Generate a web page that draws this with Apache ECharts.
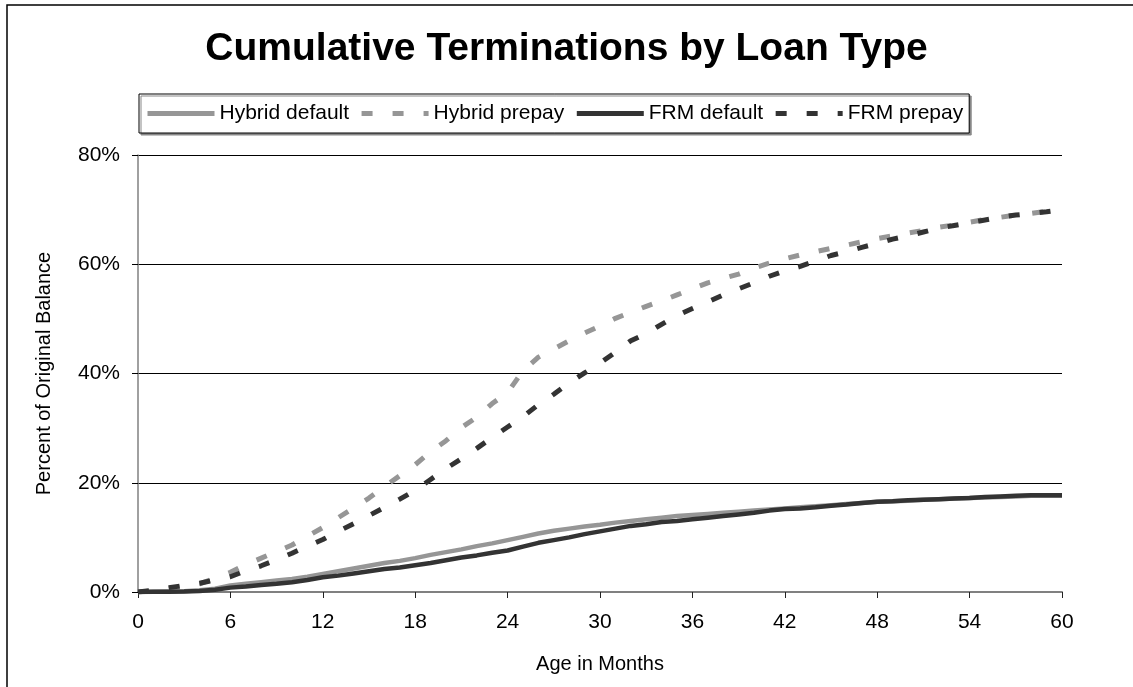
<!DOCTYPE html>
<html>
<head>
<meta charset="utf-8">
<title>Cumulative Terminations by Loan Type</title>
<script src="https://cdn.jsdelivr.net/npm/echarts@6/dist/echarts.min.js"></script>
<style>
  html, body { margin: 0; padding: 0; background: #fff; }
  #main { width: 1133px; height: 687px; }
</style>
</head>
<body>
<div id="main"></div>
<script>
// months 0..60
var months = [];
for (var m = 0; m <= 60; m++) months.push(m);

var xTicks = [0, 6, 12, 18, 24, 30, 36, 42, 48, 54, 60];
var yTicks = [0, 20, 40, 60, 80];

// cumulative % of original balance, one value per month
var hybridDefault = [0, 0.05, 0.1, 0.15, 0.3, 0.6, 1.2, 1.5, 1.8, 2.1, 2.4, 2.8, 3.3, 3.8, 4.3, 4.8, 5.3, 5.7, 6.2, 6.8, 7.3,
  7.8, 8.4, 8.9, 9.5, 10.1, 10.7, 11.2, 11.6, 12.0, 12.3, 12.7, 13.0, 13.3, 13.6, 13.9, 14.1, 14.3, 14.5, 14.7, 14.9,
  15.1, 15.3, 15.5, 15.7, 15.9, 16.1, 16.3, 16.5, 16.6, 16.7, 16.9, 17.0, 17.1, 17.2, 17.3, 17.4, 17.5, 17.6, 17.6, 17.6];
var hybridPrepay = [0, 0.2, 0.6, 1.0, 1.5, 2.5, 3.6, 5.0, 6.2, 7.4, 8.6, 10.2, 11.8, 13.6, 15.4, 17.2, 19.3, 21.3, 23.3, 25.7, 27.7,
  30.1, 32.0, 34.5, 36.5, 40.5, 43.0, 44.5, 46.0, 47.4, 48.7, 50.1, 51.2, 52.3, 53.3, 54.4, 55.5, 56.6, 57.4, 58.2, 59.3,
  60.2, 61.0, 61.7, 62.3, 62.9, 63.5, 64.1, 64.7, 65.2, 65.7, 66.2, 66.8, 67.2, 67.7, 68.2, 68.6, 69.0, 69.3, 69.7, 70.0];
var frmDefault = [0, 0.05, 0.05, 0.1, 0.2, 0.4, 0.8, 1.0, 1.3, 1.5, 1.8, 2.2, 2.7, 3.0, 3.4, 3.8, 4.2, 4.5, 4.9, 5.3, 5.8,
  6.3, 6.7, 7.2, 7.6, 8.3, 9.0, 9.5, 10.0, 10.6, 11.1, 11.6, 12.1, 12.4, 12.8, 13.0, 13.3, 13.6, 13.9, 14.2, 14.5,
  14.9, 15.2, 15.3, 15.5, 15.8, 16.0, 16.3, 16.5, 16.6, 16.8, 16.9, 17.0, 17.1, 17.2, 17.4, 17.5, 17.6, 17.7, 17.7, 17.7];
var frmPrepay = [0, 0.3, 0.8, 1.2, 1.6, 2.2, 2.8, 3.9, 4.8, 5.9, 7.1, 8.4, 9.6, 11.1, 12.5, 14.0, 15.5, 17.0, 18.6, 20.6, 22.6,
  24.4, 26.3, 28.3, 30.2, 32.1, 34.3, 36.2, 38.3, 40.1, 41.9, 43.9, 46.0, 47.3, 49.0, 50.6, 51.9, 53.1, 54.4, 55.5, 56.6,
  57.8, 58.8, 59.6, 60.6, 61.6, 62.3, 63.1, 63.8, 64.6, 65.2, 65.9, 66.6, 67.1, 67.6, 68.1, 68.6, 69.0, 69.3, 69.6, 70.0];

function pairs(arr) {
  return months.map(function (mm, i) { return [mm, arr[i]]; });
}

var font = "'Liberation Sans', Arial, sans-serif";
var chart = echarts.init(document.getElementById("main"));

var option = {
  animation: false,
  backgroundColor: "#fff",
  textStyle: { fontFamily: font, color: "#000" },
  title: {
    text: "Cumulative Terminations by Loan Type",
    left: "center",
    top: 25,
    textStyle: { fontFamily: font, fontSize: 39, fontWeight: "bold", color: "#000" }
  },
  legend: {
    left: 139,
    top: 94,
    padding: [9, 6, 9, 6],
    itemWidth: 67,
    itemHeight: 14,
    itemGap: 10,
    borderColor: "#000",
    borderWidth: 1,
    shadowColor: "#888",
    shadowOffsetX: 2,
    shadowOffsetY: 2,
    backgroundColor: "#fff",
    itemStyle: { opacity: 0 },
    lineStyle: { width: 5 },
    textStyle: { fontFamily: font, fontSize: 21, color: "#000" },
    data: ["Hybrid default", "Hybrid prepay", "FRM default", "FRM prepay"]
  },
  graphic: [
    {
      type: "rect",
      shape: { x: 7, y: 5, width: 1200, height: 800 },
      style: { fill: null, stroke: "#000", lineWidth: 1.5 },
      silent: true
    }
  ],
  grid: { left: 138, right: 71, top: 155, bottom: 95 },
  xAxis: {
    type: "value",
    min: 0,
    max: 60,
    interval: 6,
    name: "Age in Months",
    nameLocation: "middle",
    nameGap: 62,
    nameTextStyle: { fontFamily: font, fontSize: 20, color: "#000" },
    axisLine: { lineStyle: { color: "#808080", width: 2 } },
    axisTick: { show: true, length: 6, lineStyle: { color: "#222", width: 1 } },
    axisLabel: { fontFamily: font, fontSize: 21, color: "#000", margin: 20 },
    splitLine: { show: false }
  },
  yAxis: {
    type: "value",
    min: 0,
    max: 80,
    interval: 20,
    name: "Percent of Original Balance",
    nameLocation: "middle",
    nameGap: 84,
    nameTextStyle: { fontFamily: font, fontSize: 20, color: "#000" },
    axisLine: { show: true, lineStyle: { color: "#808080", width: 1.5 } },
    axisTick: { show: true, length: 6, lineStyle: { color: "#000", width: 1 } },
    axisLabel: { fontFamily: font, fontSize: 21, color: "#000", margin: 18, formatter: "{value}%" },
    splitLine: { show: true, lineStyle: { color: "#000", width: 1 } }
  },
  series: [
    {
      name: "Hybrid default",
      type: "line",
      symbol: "none",
      data: pairs(hybridDefault),
      lineStyle: { color: "#969696", width: 4.5 },
      itemStyle: { color: "#969696" }
    },
    {
      name: "Hybrid prepay",
      type: "line",
      symbol: "none",
      data: pairs(hybridPrepay),
      lineStyle: { color: "#969696", width: 5, type: [11, 20] },
      itemStyle: { color: "#969696" }
    },
    {
      name: "FRM default",
      type: "line",
      symbol: "none",
      data: pairs(frmDefault),
      lineStyle: { color: "#333333", width: 4.5 },
      itemStyle: { color: "#333333" }
    },
    {
      name: "FRM prepay",
      type: "line",
      symbol: "none",
      data: pairs(frmPrepay),
      lineStyle: { color: "#333333", width: 5, type: [11, 20] },
      itemStyle: { color: "#333333" }
    }
  ]
};

chart.setOption(option);
</script>
</body>
</html>
